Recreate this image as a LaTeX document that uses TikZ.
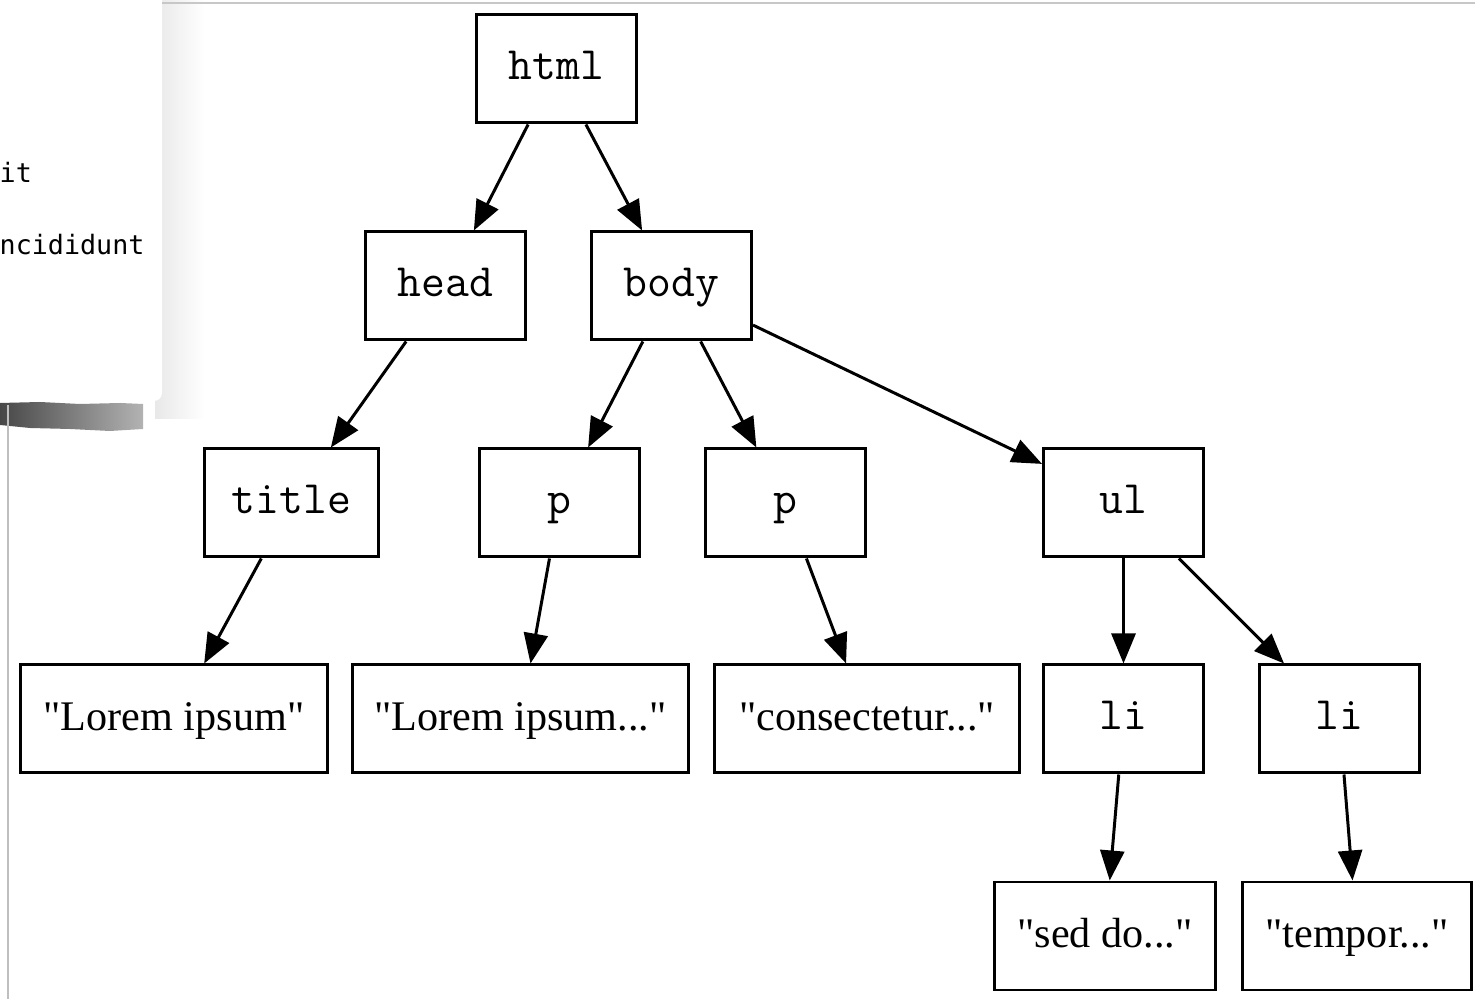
\documentclass[tikz,border=0pt]{standalone}
\usepackage{fontspec}
\setmainfont{Liberation Serif}
\newfontfamily\notefont{DejaVu Sans Mono}
\usetikzlibrary{arrows.meta}
\newcommand{\dq}[1]{\textquotedbl#1\textquotedbl}

\begin{document}
\begin{tikzpicture}[
    tagbox/.style = {draw, line width=0.85pt, minimum width=1.60cm, minimum height=1.08cm,
                     inner sep=0pt, text height=0.80em, text depth=0.2em,
                     font=\ttfamily\fontsize{13.2}{15}\selectfont},
    txtbox/.style = {draw, line width=0.85pt, minimum height=1.08cm,
                     inner sep=0pt, text height=0.88em, text depth=0.22em,
                     font=\fontsize{12}{14}\selectfont},
    edge/.style   = {line width=0.85pt, -{Triangle[length=0.30cm, width=0.24cm]}}
  ]
    \useasboundingbox (0,0) rectangle (14.75,9.99);

    % the paper card on the left
    \begin{scope}
        \shade[left color=black!9, right color=white] (1.55,9.99) rectangle (2.05,5.80);
        \shade[left color=black!72, right color=black!30]
            (0,5.96) -- (0.40,5.97) -- (0.80,5.95) -- (1.20,5.96) -- (1.43,5.95)
            -- (1.43,5.70) -- (1.10,5.68) -- (0.70,5.70) -- (0.30,5.71) -- (0,5.74) -- cycle;
        \fill[white, rounded corners=0.08cm] (-0.2,10.2) -- (1.62,10.2) -- (1.62,5.98) -- (-0.2,5.98) -- cycle;
        \draw[black!22] (1.62,9.96) -- (14.75,9.96);
        \draw[black!25] (0.08,5.94) -- (0.08,0);
        \node[anchor=west, inner sep=0pt, font=\notefont\fontsize{7.6}{9}\selectfont] (noteA) at (-0.01,8.27) {it};
        \node[anchor=west, inner sep=0pt, font=\notefont\fontsize{7.6}{9}\selectfont] (noteB) at (-0.01,7.54) {ncididunt};
    \end{scope}

    % the tree
    \node[tagbox] (html)  at (5.565,9.30) {html};
    \node[tagbox] (head)  at (4.455,7.13) {head};
    \node[tagbox] (body)  at (6.715,7.13) {body};

    \node[tagbox, minimum width=1.74cm] (title) at (2.915,4.96) {title};
    \node[tagbox] (pA)    at (5.595,4.96) {p};
    \node[tagbox] (pB)    at (7.855,4.96) {p};
    \node[tagbox] (ul)    at (11.235,4.96) {ul};

    \node[txtbox, minimum width=3.07cm] (loremA) at (1.74,2.80)  {\dq{Lorem ipsum}};
    \node[txtbox, minimum width=3.36cm] (loremB) at (5.205,2.80) {\dq{Lorem ipsum...}};
    \node[txtbox, minimum width=3.05cm] (consec) at (8.67,2.80)  {\dq{consectetur...}};
    \node[tagbox] (liA)   at (11.235,2.80) {li};
    \node[tagbox] (liB)   at (13.395,2.80) {li};

    \node[txtbox, minimum width=2.21cm] (sed)    at (11.05,0.63)  {\dq{sed do...}};
    \node[txtbox, minimum width=2.29cm] (tempor) at (13.57,0.63)  {\dq{tempor...}};

    \draw[edge] (html)  -- (head);
    \draw[edge] (html)  -- (body);
    \draw[edge] (head)  -- (title);
    \draw[edge] (body)  -- (pA);
    \draw[edge] (body)  -- (pB);
    \draw[edge] (body)  -- (ul);
    \draw[edge] (title) -- (loremA);
    \draw[edge] (pA)    -- (loremB);
    \draw[edge] (pB)    -- (consec);
    \draw[edge] (ul)    -- (liA);
    \draw[edge] (ul)    -- (liB);
    \draw[edge] (liA)   -- (sed);
    \draw[edge] (liB)   -- (tempor);
\end{tikzpicture}
\end{document}
